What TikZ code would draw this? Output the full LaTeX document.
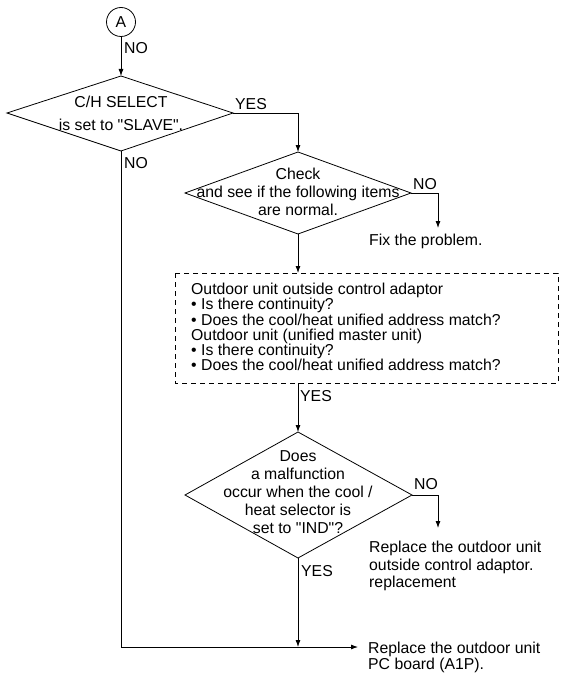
\documentclass[tikz,border=0pt]{standalone}
\usepackage{fontspec}
\setmainfont{Liberation Sans}[Ligatures=TeXOff]
\usetikzlibrary{arrows.meta}
\begin{document}
\begin{tikzpicture}[x=1pt,y=-1pt,
  line/.style={line width=0.8pt},
  arr/.style={line width=0.8pt,-{Latex[length=7pt,width=5pt]}},
  dia/.style={line width=0.8pt,line join=miter},
  txt/.style={font=\fontsize{15.8}{18.3}\selectfont,inner sep=0pt,align=center},
  ltxt/.style={font=\fontsize{15.8}{17.5}\selectfont,inner sep=0pt,align=left},
  lbl/.style={font=\fontsize{15.8}{18}\selectfont,inner sep=0pt,anchor=base west}]
\useasboundingbox (0,0) rectangle (563,674);
% connector A
\node[draw,circle,line width=0.8pt,minimum size=29pt,inner sep=0pt,font=\fontsize{15.8}{18}\selectfont] (A) at (121,22) {A};
% diamond 1
\coordinate (d1t) at (121,76); \coordinate (d1r) at (233,113);
\coordinate (d1b) at (121,151); \coordinate (d1l) at (7,113);
\draw[dia] (d1t) -- (d1r) -- (d1b) -- (d1l) -- cycle;
\node[txt,font=\fontsize{15.8}{23.5}\selectfont] (t1) at (121,113.5) {C/H SELECT\\is set to "SLAVE".};
% diamond 2
\coordinate (d2t) at (298,152); \coordinate (d2r) at (411,193);
\coordinate (d2b) at (298,234); \coordinate (d2l) at (185,193);
\draw[dia] (d2t) -- (d2r) -- (d2b) -- (d2l) -- cycle;
\node[txt] (t2) at (298,192) {Check\\and see if the following items\\are normal.};
% diamond 3
\coordinate (d3t) at (298,432); \coordinate (d3r) at (412,495);
\coordinate (d3b) at (298,558); \coordinate (d3l) at (185,495);
\draw[dia] (d3t) -- (d3r) -- (d3b) -- (d3l) -- cycle;
\node[txt,font=\fontsize{15.8}{18}\selectfont] (t3) at (298,492) {Does\\a malfunction\\occur when the cool /\\heat selector is\\set to "IND"?};
% dashed box
\coordinate (bt) at (298,273);
\coordinate (bb) at (298,383);
\draw[line width=0.7pt,dash pattern=on 5pt off 4pt] (175,273) rectangle (558,383);
\node[ltxt,font=\fontsize{15.8}{15.3}\selectfont,anchor=west] (box) at (191,327) {Outdoor unit outside control adaptor\\%
\textbullet\ Is there continuity?\\%
\textbullet\ Does the cool/heat unified address match?\\%
Outdoor unit (unified master unit)\\%
\textbullet\ Is there continuity?\\%
\textbullet\ Does the cool/heat unified address match?};
% results
\node[ltxt,anchor=west] (fix) at (369,241) {Fix the problem.};
\node[ltxt,anchor=west] (rep1) at (369,566) {Replace the outdoor unit\\outside control adaptor.\\replacement};
\node[ltxt,font=\fontsize{15.8}{16}\selectfont,anchor=west] (rep2) at (368,657) {Replace the outdoor unit\\PC board (A1P).};
% connectors
\draw[arr] (A.south) -- (d1t);
\draw[arr] (d1r) -| (d2t);
\coordinate (n2) at (438,228);
\draw[arr] (d2r) -| (n2);
\draw[arr] (d2b) -- (bt);
\draw[arr] (bb) -- (d3t);
\coordinate (n3) at (438,528);
\draw[arr] (d3r) -| (n3);
\coordinate (j) at (298,647);
\draw[arr] (d3b) -- (j);
\coordinate (e) at (358,647);
\draw[arr] (d1b) |- (e);
% labels
\node[lbl] (l1) at (124,54) {NO};
\node[lbl] (l2) at (235,110) {YES};
\node[lbl] (l3) at (124,168) {NO};
\node[lbl] (l4) at (413,189) {NO};
\node[lbl] (l5) at (300,401) {YES};
\node[lbl] (l6) at (414,489) {NO};
\node[lbl] (l7) at (301,576) {YES};
\end{tikzpicture}
\end{document}
